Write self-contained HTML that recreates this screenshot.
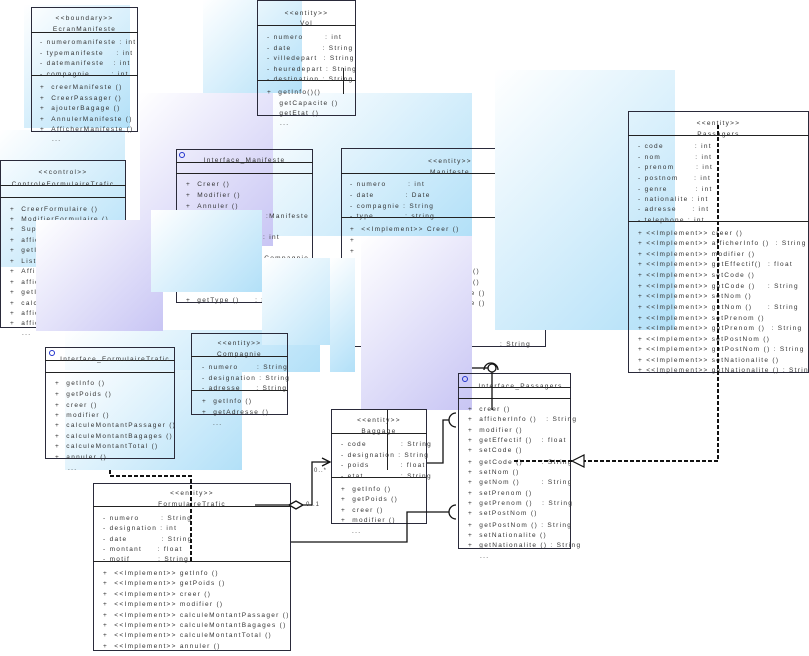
<!DOCTYPE html>
<html><head><meta charset="utf-8">
<style>
html,body{margin:0;padding:0;background:#fff;}
body{width:809px;height:656px;position:relative;overflow:hidden;font-family:"Liberation Sans",sans-serif;}
.b{position:absolute;border:1.5px solid #2a2a3a;box-sizing:border-box;}
.h{position:absolute;height:0;border-top:1.3px solid #222;}
.v{position:absolute;width:0;border-left:1.3px solid #222;}
.t{position:absolute;font-size:6.5px;letter-spacing:1.3px;color:#333;white-space:nowrap;line-height:8px;}
.c{text-align:center;}
.gb{position:absolute;background:linear-gradient(135deg,#ffffff 0%,#b2e0f8 100%);}
.gl{position:absolute;background:linear-gradient(135deg,#ffffff 0%,#c8c5f4 100%);}
.o{position:absolute;width:4px;height:4px;border:1.2px solid #2233cc;border-radius:50%;}
</style></head><body>

<div class="gb" style="left:24px;top:5px;width:106px;height:123px"></div>
<div class="gb" style="left:203px;top:0;width:99px;height:95px"></div>
<div class="gb" style="left:0;top:130px;width:125px;height:137px"></div>
<div class="gb" style="left:273px;top:93px;width:199px;height:143px"></div>
<div class="gl" style="left:140px;top:93px;width:133px;height:153px"></div>
<div class="gb" style="left:65px;top:330px;width:255px;height:42px"></div>
<div class="gb" style="left:65px;top:370px;width:177px;height:100px"></div>

<!-- EcranManifeste -->
<div class="b" style="left:31px;top:7px;width:107px;height:125px"></div>
<div class="h" style="left:31px;top:32px;width:107px"></div>
<div class="h" style="left:31px;top:75px;width:107px"></div>
<div class="t c" style="left:31px;top:15px;width:107px">&lt;&lt;boundary&gt;&gt;</div>
<div class="t c" style="left:31px;top:26px;width:107px">EcranManifeste</div>
<div class="t" style="left:40px;top:39px">- numeromanifeste : int</div>
<div class="t" style="left:40px;top:50px">- typemanifeste&nbsp;&nbsp;&nbsp;&nbsp;: int</div>
<div class="t" style="left:40px;top:60px">- datemanifeste&nbsp;&nbsp;&nbsp;: int</div>
<div class="t" style="left:40px;top:71px">- compagnie&nbsp;&nbsp;&nbsp;&nbsp;&nbsp;&nbsp;&nbsp;: int</div>
<div class="t" style="left:40px;top:84px">+ &nbsp;creerManifeste ()</div>
<div class="t" style="left:40px;top:95px">+ &nbsp;CreerPassager ()</div>
<div class="t" style="left:40px;top:105px">+ &nbsp;ajouterBagage ()</div>
<div class="t" style="left:40px;top:116px">+ &nbsp;AnnulerManifeste ()</div>
<div class="t" style="left:40px;top:126px">+ &nbsp;AfficherManifeste ()</div>
<div class="t" style="left:52px;top:136px">...</div>

<!-- Vol -->
<div class="b" style="left:257px;top:0;width:99px;height:116px"></div>
<div class="h" style="left:257px;top:25px;width:99px"></div>
<div class="h" style="left:257px;top:80px;width:99px"></div>
<div class="v" style="left:343px;top:68px;height:26px"></div>
<div class="t c" style="left:257px;top:10px;width:99px">&lt;&lt;entity&gt;&gt;</div>
<div class="t c" style="left:257px;top:20px;width:99px">Vol</div>
<div class="t" style="left:267px;top:34px">- numero&nbsp;&nbsp;&nbsp;&nbsp;&nbsp;&nbsp;&nbsp;: int</div>
<div class="t" style="left:267px;top:45px">- date&nbsp;&nbsp;&nbsp;&nbsp;&nbsp;&nbsp;&nbsp;&nbsp;&nbsp;&nbsp;: String</div>
<div class="t" style="left:267px;top:55px">- villedepart&nbsp;&nbsp;: String</div>
<div class="t" style="left:267px;top:66px">- heuredepart : String</div>
<div class="t" style="left:267px;top:76px">- destination&nbsp;: String</div>
<div class="t" style="left:267px;top:89px">+ &nbsp;getInfo()()</div>
<div class="t" style="left:267px;top:100px">&nbsp;&nbsp;&nbsp;&nbsp;getCapacite ()</div>
<div class="t" style="left:267px;top:110px">&nbsp;&nbsp;&nbsp;&nbsp;getEtat ()</div>
<div class="t" style="left:280px;top:120px">...</div>

<!-- Interface_Manifeste -->
<div class="b" style="left:176px;top:149px;width:137px;height:154px"></div>
<div class="h" style="left:176px;top:162px;width:137px"></div>
<div class="h" style="left:176px;top:173px;width:137px"></div>
<div class="o" style="left:179px;top:152px"></div>
<div class="t c" style="left:176px;top:157px;width:137px">Interface_Manifeste</div>
<div class="t" style="left:186px;top:181px">+ &nbsp;Creer ()</div>
<div class="t" style="left:186px;top:192px">+ &nbsp;Modifier ()</div>
<div class="t" style="left:186px;top:203px">+ &nbsp;Annuler ()</div>
<div class="t" style="left:266px;top:213px">:Manifeste</div>
<div class="t" style="left:244px;top:224px">)</div>
<div class="t" style="left:244px;top:234px">)&nbsp;&nbsp;&nbsp;&nbsp;&nbsp;: int</div>
<div class="t" style="left:238px;top:244px">le ()</div>
<div class="t" style="left:240px;top:255px">e () : Compagnie</div>
<div class="t" style="left:266px;top:277px">: Date</div>
<div class="t" style="left:186px;top:297px">+ &nbsp;getType ()&nbsp;&nbsp;&nbsp;&nbsp;&nbsp;: String</div>

<!-- Manifeste -->
<div class="b" style="left:341px;top:148px;width:205px;height:199px"></div>
<div class="h" style="left:341px;top:173px;width:205px"></div>
<div class="h" style="left:341px;top:217px;width:205px"></div>
<div class="t c" style="left:355px;top:158px;width:190px">&lt;&lt;entity&gt;&gt;</div>
<div class="t c" style="left:355px;top:169px;width:190px">Manifeste</div>
<div class="t" style="left:350px;top:181px">- numero&nbsp;&nbsp;&nbsp;&nbsp;&nbsp;&nbsp;&nbsp;: int</div>
<div class="t" style="left:350px;top:192px">- date&nbsp;&nbsp;&nbsp;&nbsp;&nbsp;&nbsp;&nbsp;&nbsp;&nbsp;&nbsp;: Date</div>
<div class="t" style="left:350px;top:203px">- compagnie : String</div>
<div class="t" style="left:350px;top:213px">- type&nbsp;&nbsp;&nbsp;&nbsp;&nbsp;&nbsp;&nbsp;&nbsp;&nbsp;&nbsp;: string</div>
<div class="t" style="left:350px;top:226px">+ &nbsp;&lt;&lt;Implement&gt;&gt; Creer ()</div>
<div class="t" style="left:350px;top:237px">+</div>
<div class="t" style="left:350px;top:248px">+</div>
<div class="t" style="left:473px;top:268px">()</div>
<div class="t" style="left:473px;top:279px">()</div>
<div class="t" style="left:463px;top:290px">nie ()</div>
<div class="t" style="left:463px;top:300px">ine ()</div>
<div class="t" style="left:500px;top:341px">: String</div>

<div class="gb" style="left:495px;top:70px;width:180px;height:260px"></div>

<!-- Passagers -->
<div class="b" style="left:628px;top:111px;width:181px;height:262px"></div>
<div class="h" style="left:628px;top:135px;width:181px"></div>
<div class="h" style="left:628px;top:221px;width:181px"></div>
<div class="t c" style="left:628px;top:120px;width:181px">&lt;&lt;entity&gt;&gt;</div>
<div class="t c" style="left:628px;top:131px;width:181px">Passagers</div>
<div class="t" style="left:638px;top:143px">- code&nbsp;&nbsp;&nbsp;&nbsp;&nbsp;&nbsp;&nbsp;&nbsp;&nbsp;&nbsp;: int</div>
<div class="t" style="left:638px;top:154px">- nom&nbsp;&nbsp;&nbsp;&nbsp;&nbsp;&nbsp;&nbsp;&nbsp;&nbsp;&nbsp;&nbsp;: int</div>
<div class="t" style="left:638px;top:164px">- prenom&nbsp;&nbsp;&nbsp;&nbsp;&nbsp;&nbsp;&nbsp;: int</div>
<div class="t" style="left:638px;top:175px">- postnom&nbsp;&nbsp;&nbsp;&nbsp;&nbsp;: int</div>
<div class="t" style="left:638px;top:186px">- genre&nbsp;&nbsp;&nbsp;&nbsp;&nbsp;&nbsp;&nbsp;&nbsp;&nbsp;: int</div>
<div class="t" style="left:638px;top:196px">- nationalite : int</div>
<div class="t" style="left:638px;top:206px">- adresse&nbsp;&nbsp;&nbsp;&nbsp;&nbsp;: int</div>
<div class="t" style="left:638px;top:217px">- telephone : int</div>
<div class="t" style="left:638px;top:230px">+ &lt;&lt;Implement&gt;&gt; creer ()</div>
<div class="t" style="left:638px;top:240px">+ &lt;&lt;Implement&gt;&gt; afficherInfo ()&nbsp;&nbsp;: String</div>
<div class="t" style="left:638px;top:251px">+ &lt;&lt;Implement&gt;&gt; modifier ()</div>
<div class="t" style="left:638px;top:261px">+ &lt;&lt;Implement&gt;&gt; getEffectif()&nbsp;&nbsp;: float</div>
<div class="t" style="left:638px;top:272px">+ &lt;&lt;Implement&gt;&gt; setCode ()</div>
<div class="t" style="left:638px;top:283px">+ &lt;&lt;Implement&gt;&gt; getCode ()&nbsp;&nbsp;&nbsp;&nbsp;: String</div>
<div class="t" style="left:638px;top:293px">+ &lt;&lt;Implement&gt;&gt; setNom ()</div>
<div class="t" style="left:638px;top:304px">+ &lt;&lt;Implement&gt;&gt; getNom ()&nbsp;&nbsp;&nbsp;&nbsp;&nbsp;: String</div>
<div class="t" style="left:638px;top:315px">+ &lt;&lt;Implement&gt;&gt; setPrenom ()</div>
<div class="t" style="left:638px;top:325px">+ &lt;&lt;Implement&gt;&gt; getPrenom ()&nbsp;&nbsp;: String</div>
<div class="t" style="left:638px;top:336px">+ &lt;&lt;Implement&gt;&gt; setPostNom ()</div>
<div class="t" style="left:638px;top:346px">+ &lt;&lt;Implement&gt;&gt; getPostNom () : String</div>
<div class="t" style="left:638px;top:357px">+ &lt;&lt;Implement&gt;&gt; setNationalite ()</div>
<div class="t" style="left:638px;top:367px">+ &lt;&lt;Implement&gt;&gt; getNationalite () : String</div>

<!-- Controle -->
<div class="b" style="left:0;top:160px;width:126px;height:168px"></div>
<div class="h" style="left:0;top:185px;width:126px"></div>
<div class="h" style="left:0;top:197px;width:126px"></div>
<div class="t c" style="left:0;top:169px;width:126px">&lt;&lt;control&gt;&gt;</div>
<div class="t c" style="left:0;top:181px;width:126px">ControleFormulaireTrafic</div>
<div class="t" style="left:10px;top:206px">+ &nbsp;CreerFormulaire ()</div>
<div class="t" style="left:10px;top:216px">+ &nbsp;ModifierFormulaire ()</div>
<div class="t" style="left:10px;top:226px">+ &nbsp;Sup</div>
<div class="t" style="left:10px;top:237px">+ &nbsp;affic</div>
<div class="t" style="left:10px;top:247px">+ &nbsp;getI</div>
<div class="t" style="left:10px;top:258px">+ &nbsp;List</div>
<div class="t" style="left:10px;top:268px">+ &nbsp;Affi</div>
<div class="t" style="left:10px;top:279px">+ &nbsp;affic</div>
<div class="t" style="left:10px;top:289px">+ &nbsp;getI</div>
<div class="t" style="left:10px;top:300px">+ &nbsp;calc</div>
<div class="t" style="left:10px;top:310px">+ &nbsp;affic</div>
<div class="t" style="left:10px;top:320px">+ &nbsp;affic</div>
<div class="t" style="left:22px;top:330px">...</div>

<div class="gl" style="left:36px;top:220px;width:127px;height:111px"></div>
<div class="gb" style="left:151px;top:210px;width:111px;height:82px"></div>
<div class="gb" style="left:262px;top:258px;width:93px;height:87px"></div>
<div class="gb" style="left:330px;top:258px;width:25px;height:114px"></div>
<div class="gl" style="left:361px;top:236px;width:111px;height:174px"></div>

<!-- Interface_FormulaireTrafic -->
<div class="b" style="left:45px;top:347px;width:130px;height:112px"></div>
<div class="h" style="left:45px;top:360px;width:130px"></div>
<div class="h" style="left:45px;top:372px;width:130px"></div>
<div class="o" style="left:49px;top:350px"></div>
<div class="t c" style="left:55px;top:356px;width:120px">Interface_FormulaireTrafic</div>
<div class="t" style="left:55px;top:380px">+ &nbsp;getInfo ()</div>
<div class="t" style="left:55px;top:391px">+ &nbsp;getPoids ()</div>
<div class="t" style="left:55px;top:402px">+ &nbsp;creer ()</div>
<div class="t" style="left:55px;top:412px">+ &nbsp;modifier ()</div>
<div class="t" style="left:55px;top:422px">+ &nbsp;calculeMontantPassager ()</div>
<div class="t" style="left:55px;top:433px">+ &nbsp;calculeMontantBagages ()</div>
<div class="t" style="left:55px;top:443px">+ &nbsp;calculeMontantTotal ()</div>
<div class="t" style="left:55px;top:454px">+ &nbsp;annuler ()</div>
<div class="t" style="left:68px;top:465px">...</div>

<!-- Compagnie -->
<div class="b" style="left:191px;top:333px;width:97px;height:82px"></div>
<div class="h" style="left:191px;top:356px;width:97px"></div>
<div class="h" style="left:191px;top:390px;width:97px"></div>
<div class="t c" style="left:191px;top:340px;width:97px">&lt;&lt;entity&gt;&gt;</div>
<div class="t c" style="left:191px;top:351px;width:97px">Compagnie</div>
<div class="t" style="left:202px;top:364px">- numero&nbsp;&nbsp;&nbsp;&nbsp;&nbsp;&nbsp;: String</div>
<div class="t" style="left:202px;top:375px">- designation : String</div>
<div class="t" style="left:202px;top:385px">- adresse&nbsp;&nbsp;&nbsp;&nbsp;&nbsp;: String</div>
<div class="t" style="left:202px;top:398px">+ &nbsp;getInfo ()</div>
<div class="t" style="left:202px;top:409px">+ &nbsp;getAdresse ()</div>
<div class="t" style="left:213px;top:420px">...</div>

<!-- Baggage -->
<div class="b" style="left:331px;top:409px;width:96px;height:115px"></div>
<div class="h" style="left:331px;top:433px;width:96px"></div>
<div class="h" style="left:331px;top:477px;width:96px"></div>
<div class="v" style="left:387px;top:410px;height:60px"></div>
<div class="t c" style="left:331px;top:417px;width:96px">&lt;&lt;entity&gt;&gt;</div>
<div class="t c" style="left:331px;top:428px;width:96px">Baggage</div>
<div class="t" style="left:341px;top:441px">- code&nbsp;&nbsp;&nbsp;&nbsp;&nbsp;&nbsp;&nbsp;&nbsp;&nbsp;&nbsp;&nbsp;: String</div>
<div class="t" style="left:341px;top:452px">- designation : String</div>
<div class="t" style="left:341px;top:462px">- poids&nbsp;&nbsp;&nbsp;&nbsp;&nbsp;&nbsp;&nbsp;&nbsp;&nbsp;&nbsp;: float</div>
<div class="t" style="left:341px;top:473px">- etat&nbsp;&nbsp;&nbsp;&nbsp;&nbsp;&nbsp;&nbsp;&nbsp;&nbsp;&nbsp;&nbsp;&nbsp;: String</div>
<div class="t" style="left:341px;top:486px">+ &nbsp;getInfo ()</div>
<div class="t" style="left:341px;top:496px">+ &nbsp;getPoids ()</div>
<div class="t" style="left:341px;top:507px">+ &nbsp;creer ()</div>
<div class="t" style="left:341px;top:517px">+ &nbsp;modifier ()</div>
<div class="t" style="left:352px;top:528px">...</div>

<!-- Interface_Passagers -->
<div class="b" style="left:458px;top:373px;width:113px;height:176px"></div>
<div class="h" style="left:458px;top:387px;width:113px"></div>
<div class="h" style="left:458px;top:398px;width:113px"></div>
<div class="o" style="left:462px;top:376px"></div>
<div class="t c" style="left:470px;top:383px;width:101px">Interface_Passagers</div>
<div class="t" style="left:468px;top:406px">+ &nbsp;creer ()</div>
<div class="t" style="left:468px;top:416px">+ &nbsp;afficherInfo ()&nbsp;&nbsp;&nbsp;: String</div>
<div class="t" style="left:468px;top:427px">+ &nbsp;modifier ()</div>
<div class="t" style="left:468px;top:437px">+ &nbsp;getEffectif ()&nbsp;&nbsp;&nbsp;: float</div>
<div class="t" style="left:468px;top:447px">+ &nbsp;setCode ()</div>
<div class="t" style="left:468px;top:459px">+ &nbsp;getCode ()&nbsp;&nbsp;&nbsp;&nbsp;&nbsp;&nbsp;: String</div>
<div class="t" style="left:468px;top:469px">+ &nbsp;setNom ()</div>
<div class="t" style="left:468px;top:479px">+ &nbsp;getNom ()&nbsp;&nbsp;&nbsp;&nbsp;&nbsp;&nbsp;&nbsp;: String</div>
<div class="t" style="left:468px;top:490px">+ &nbsp;setPrenom ()</div>
<div class="t" style="left:468px;top:500px">+ &nbsp;getPrenom ()&nbsp;&nbsp;&nbsp;: String</div>
<div class="t" style="left:468px;top:510px">+ &nbsp;setPostNom ()</div>
<div class="t" style="left:468px;top:522px">+ &nbsp;getPostNom () : String</div>
<div class="t" style="left:468px;top:532px">+ &nbsp;setNationalite ()</div>
<div class="t" style="left:468px;top:542px">+ &nbsp;getNationalite () : String</div>
<div class="t" style="left:480px;top:553px">...</div>

<!-- FormulaireTrafic -->
<div class="b" style="left:93px;top:483px;width:198px;height:168px"></div>
<div class="h" style="left:93px;top:506px;width:198px"></div>
<div class="h" style="left:93px;top:561px;width:198px"></div>
<div class="t c" style="left:93px;top:490px;width:198px">&lt;&lt;entity&gt;&gt;</div>
<div class="t c" style="left:93px;top:501px;width:198px">FormulaireTrafic</div>
<div class="t" style="left:103px;top:515px">- numero&nbsp;&nbsp;&nbsp;&nbsp;&nbsp;&nbsp;&nbsp;: String</div>
<div class="t" style="left:103px;top:525px">- designation : int</div>
<div class="t" style="left:103px;top:536px">- date&nbsp;&nbsp;&nbsp;&nbsp;&nbsp;&nbsp;&nbsp;&nbsp;&nbsp;&nbsp;&nbsp;: String</div>
<div class="t" style="left:103px;top:546px">- montant&nbsp;&nbsp;&nbsp;&nbsp;&nbsp;: float</div>
<div class="t" style="left:103px;top:556px">- motif&nbsp;&nbsp;&nbsp;&nbsp;&nbsp;&nbsp;&nbsp;&nbsp;&nbsp;: String</div>
<div class="t" style="left:103px;top:570px">+ &nbsp;&lt;&lt;Implement&gt;&gt; getInfo ()</div>
<div class="t" style="left:103px;top:580px">+ &nbsp;&lt;&lt;Implement&gt;&gt; getPoids ()</div>
<div class="t" style="left:103px;top:591px">+ &nbsp;&lt;&lt;Implement&gt;&gt; creer ()</div>
<div class="t" style="left:103px;top:601px">+ &nbsp;&lt;&lt;Implement&gt;&gt; modifier ()</div>
<div class="t" style="left:103px;top:612px">+ &nbsp;&lt;&lt;Implement&gt;&gt; calculeMontantPassager ()</div>
<div class="t" style="left:103px;top:622px">+ &nbsp;&lt;&lt;Implement&gt;&gt; calculeMontantBagages ()</div>
<div class="t" style="left:103px;top:632px">+ &nbsp;&lt;&lt;Implement&gt;&gt; calculeMontantTotal ()</div>
<div class="t" style="left:103px;top:643px">+ &nbsp;&lt;&lt;Implement&gt;&gt; annuler ()</div>

<svg style="position:absolute;left:0;top:0" width="809" height="656">
 <g fill="none" stroke="#111" stroke-width="1.3">
  <polyline points="255,505 289,505"/>
  <polygon points="289,505 296,501 303,505 296,509" fill="#fff"/>
  <polyline points="303,505 312,505 312,462 330,462"/>
  <polyline points="322,458 330,462 322,466"/>
  <polyline points="291,542 407,542 407,512 449,512"/>
  <path d="M456,505 A7,7 0 0 0 456,519"/>
  <polyline points="427,463 443,463 443,420 449,420"/>
  <path d="M456,413 A7,7 0 0 0 456,427"/>
  <polyline points="472,368 488,368"/>
  <path d="M484,370 A7,7 0 0 1 498,370"/>
  <circle cx="492" cy="368" r="4"/>
  <line x1="492" y1="372" x2="492" y2="410"/>
 </g>
 <g fill="none" stroke="#111" stroke-width="2" stroke-dasharray="4,2">
  <polyline points="110,470 110,476 191,476 191,563"/>
  <polyline points="718,125 718,461 584,461"/>
  <polyline points="572,461 514,461"/>
 </g>
 <polygon points="572,461 584,455 584,467" fill="#fff" stroke="#111" stroke-width="1.2"/>
 <text x="314" y="472" font-size="6" font-family="Liberation Sans" fill="#444" letter-spacing="1">0..*</text>
 <text x="306" y="506" font-size="6" font-family="Liberation Sans" fill="#444" letter-spacing="1">0..1</text>
</svg>
</body></html>
